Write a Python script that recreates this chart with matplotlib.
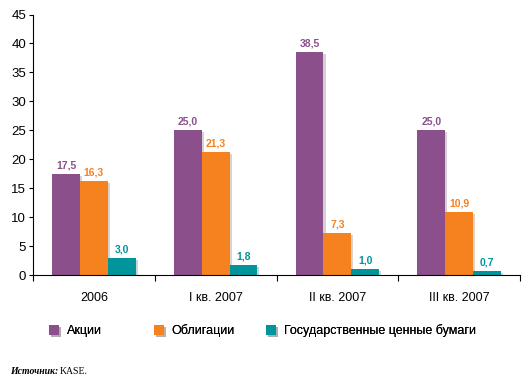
import matplotlib.pyplot as plt
import matplotlib.patheffects as pe
import numpy as np

# ---------------------------------------------------------------------------
# Data
# ---------------------------------------------------------------------------
periods = ["2006", "I кв. 2007", "II кв. 2007", "III кв. 2007"]
series_names = ["Акции", "Облигации", "Государственные ценные бумаги"]
shares = [17.5, 25.0, 38.5, 25.0]
bonds = [16.3, 21.3, 7.3, 10.9]
gov_papers = [3.0, 1.8, 1.0, 0.7]
yticks = [0, 5, 10, 15, 20, 25, 30, 35, 40, 45]

COLORS = ["#8B4F8C", "#F5821F", "#00959B"]
FONT = ["Liberation Sans Narrow", "Liberation Sans", "DejaVu Sans"]

plt.rcParams["font.family"] = FONT

fig = plt.figure(figsize=(5.31, 3.83), dpi=100)
ax = fig.add_axes([33 / 531, 108 / 383, 487 / 531, 260.5 / 383])

x = np.arange(len(periods))
width = 0.228
shadow = [pe.SimplePatchShadow(offset=(1.5, -1.5), alpha=0.2), pe.Normal()]

handles = []
for i, (vals, color, name) in enumerate(zip([shares, bonds, gov_papers], COLORS, series_names)):
    pos = x + (i - 1) * width
    bars = ax.bar(pos, vals, width, color=color, label=name, zorder=2)
    for b in bars:
        b.set_path_effects(shadow)
    handles.append(bars)
    for p, v in zip(pos, vals):
        ax.text(p, v + 0.6, f"{v:.1f}".replace(".", ","), ha="center", va="bottom",
                fontsize=7.5, fontweight="bold", color=color)

ax.set_xlim(-0.5, len(periods) - 0.5)
ax.set_ylim(0, 45)
ax.set_yticks(yticks)
ax.set_xticks(x)
ax.set_xticklabels(periods)
ax.set_xticks(np.arange(-0.5, len(periods)), minor=True)
ax.tick_params(axis="x", which="major", length=0, pad=12, labelsize=9)
ax.tick_params(axis="x", which="minor", length=4, width=0.8, direction="out")
ax.tick_params(axis="y", length=3, width=0.8, labelsize=9.5, pad=2)

for s in ("top", "right"):
    ax.spines[s].set_visible(False)
for s in ("left", "bottom"):
    ax.spines[s].set_linewidth(0.8)

# legend: one entry per anchor so the markers sit where the reference has them
legend_x = [49, 154, 266]
for h, name, lx in zip(handles, series_names, legend_x):
    leg = fig.legend(handles=[h], labels=[name], loc="center left",
                     bbox_to_anchor=(lx / 531, 1 - 331 / 383), frameon=False,
                     fontsize=9, handlelength=0.8, handleheight=0.8,
                     handletextpad=0.6, borderpad=0, borderaxespad=0)
    fig.add_artist(leg)

fig.text(10 / 531, 1 - 371 / 383, "Источник:", family="Liberation Serif",
         fontsize=7, fontweight="bold", fontstyle="italic", va="center")
fig.text(60 / 531, 1 - 371 / 383, "KASE.", family="Liberation Serif",
         fontsize=7, va="center")

fig.savefig("out.png", dpi=100)
